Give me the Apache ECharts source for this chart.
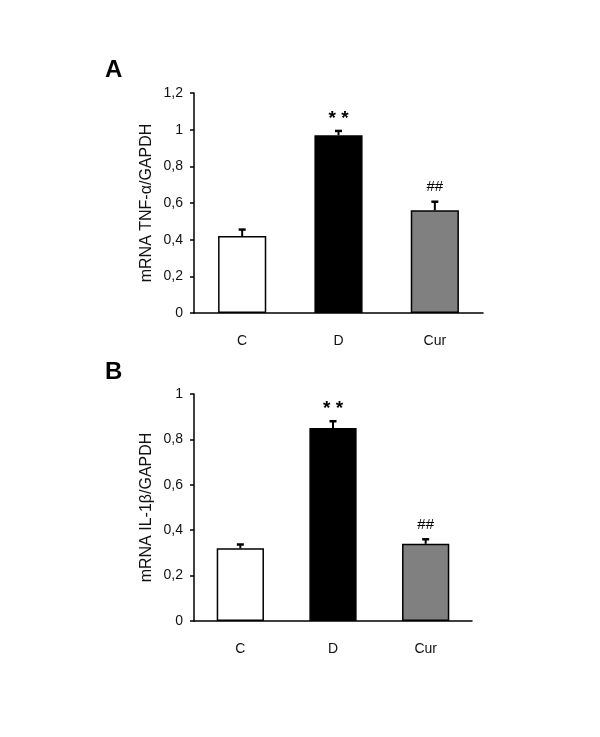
<!DOCTYPE html>
<html>
<head>
<meta charset="utf-8">
<script src="https://cdn.jsdelivr.net/npm/echarts@6/dist/echarts.min.js"></script>
<style>
  html, body { margin: 0; padding: 0; background: #fff; }
  #chart { width: 600px; height: 737px; }
</style>
</head>
<body>
<div id="chart"></div>
<script>
// groups
const categories = ['C', 'D', 'Cur']
const barColors = ['#ffffff', '#000000', '#808080']

// panel A: TNF-alpha
const tnfMean = [0.42, 0.97, 0.56]
const tnfErr = [0.035, 0.023, 0.047]
const tnfMarks = ['', '* *', '##']
const tnfTicks = [0, 0.2, 0.4, 0.6, 0.8, 1, 1.2]

// panel B: IL-1beta
const il1Mean = [0.32, 0.85, 0.34]
const il1Err = [0.017, 0.03, 0.02]
const il1Marks = ['', '* *', '##']
const il1Ticks = [0, 0.2, 0.4, 0.6, 0.8, 1]

const FONT = 'Liberation Sans, Arial, sans-serif'
const fmt = v => String(+v.toFixed(1)).replace('.', ',')

function barData(means) {
  return means.map((v, i) => ({
    value: v,
    itemStyle: { color: barColors[i] }
  }))
}

function errorSeries(idx, means, errs, marks) {
  return {
    type: 'custom',
    xAxisIndex: idx,
    yAxisIndex: idx,
    z: 5,
    data: means.map((m, i) => [i, m + errs[i], m]),
    renderItem(params, api) {
      const top = api.coord([api.value(0), api.value(1)])
      const base = api.coord([api.value(0), api.value(2)])
      const mark = marks[params.dataIndex]
      const big = mark.indexOf('*') >= 0
      return {
        type: 'group',
        children: [
          { type: 'line', shape: { x1: top[0], y1: base[1], x2: top[0], y2: top[1] },
            style: { stroke: '#000', lineWidth: 2 } },
          { type: 'line', shape: { x1: top[0] - 3.5, y1: top[1], x2: top[0] + 3.5, y2: top[1] },
            style: { stroke: '#000', lineWidth: 2.5 } },
          { type: 'text', x: top[0], y: top[1] - (big ? 3 : 7),
            style: { text: mark, fill: '#000', align: 'center', verticalAlign: 'bottom',
              font: (big ? 'bold 19px ' : '15px ') + FONT } }
        ]
      }
    }
  }
}

function yAxis(idx, max, name) {
  return {
    type: 'value',
    gridIndex: idx,
    min: 0, max: max, interval: 0.2,
    name: name,
    nameLocation: 'middle',
    nameRotate: 90,
    nameGap: 39,
    nameTextStyle: { fontFamily: FONT, fontSize: 16, color: '#111' },
    axisLine: { show: true, lineStyle: { color: '#000', width: 1.5 } },
    axisTick: { show: true, length: 4, lineStyle: { color: '#000', width: 1.5 } },
    axisLabel: { fontFamily: FONT, fontSize: 14, color: '#111', margin: 11, formatter: fmt },
    splitLine: { show: false }
  }
}

function xAxis(idx) {
  return {
    type: 'category',
    gridIndex: idx,
    data: categories,
    axisLine: { lineStyle: { color: '#000', width: 1.5 } },
    axisTick: { show: false },
    axisLabel: { fontFamily: FONT, fontSize: 14, color: '#111', margin: 21 }
  }
}

const chart = echarts.init(document.getElementById('chart'), null, { renderer: 'canvas' })
chart.setOption({
  backgroundColor: '#fff',
  animation: false,
  title: [
    { text: 'A', left: 100, top: 53, textStyle: { fontFamily: FONT, fontSize: 24, fontWeight: 'bold', color: '#000' } },
    { text: 'B', left: 100, top: 355, textStyle: { fontFamily: FONT, fontSize: 24, fontWeight: 'bold', color: '#000' } }
  ],
  grid: [
    { left: 194, right: 117, top: 93, bottom: 424 },
    { left: 194, right: 128, top: 394, bottom: 116 }
  ],
  xAxis: [xAxis(0), xAxis(1)],
  yAxis: [
    yAxis(0, tnfTicks[tnfTicks.length - 1], 'mRNA TNF-α/GAPDH'),
    yAxis(1, il1Ticks[il1Ticks.length - 1], 'mRNA IL-1β/GAPDH')
  ],
  series: [
    { type: 'bar', xAxisIndex: 0, yAxisIndex: 0, barWidth: '50%', data: barData(tnfMean),
      itemStyle: { borderColor: '#000', borderWidth: 1.5 } },
    errorSeries(0, tnfMean, tnfErr, tnfMarks),
    { type: 'bar', xAxisIndex: 1, yAxisIndex: 1, barWidth: '51%', data: barData(il1Mean),
      itemStyle: { borderColor: '#000', borderWidth: 1.5 } },
    errorSeries(1, il1Mean, il1Err, il1Marks)
  ]
})
</script>
</body>
</html>
